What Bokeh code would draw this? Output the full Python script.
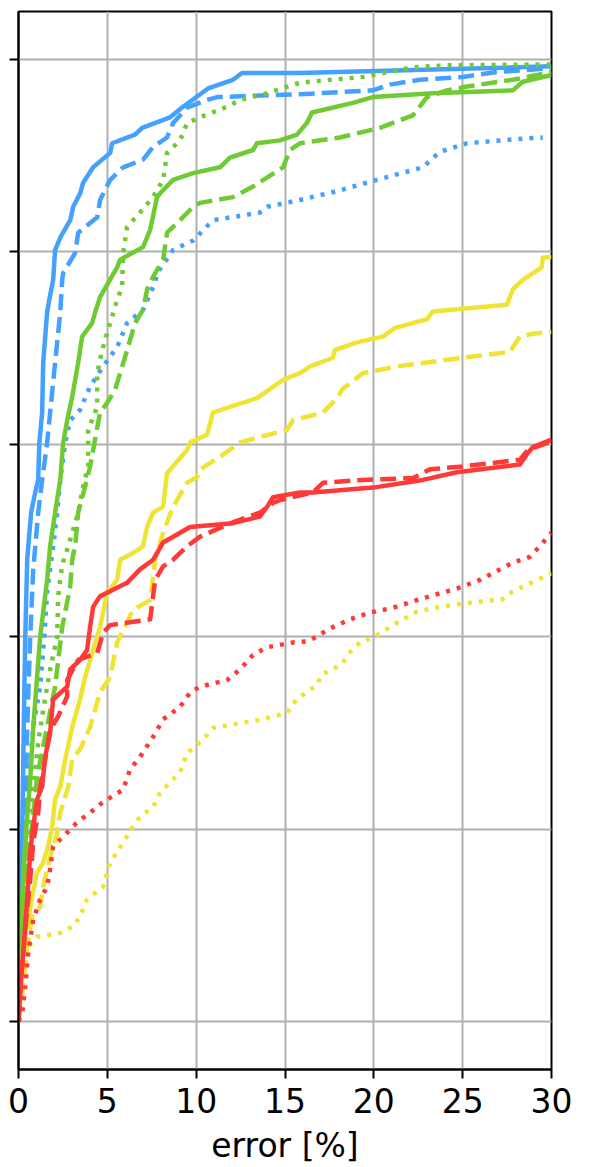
from bokeh.plotting import figure
from bokeh.models import Range1d, FixedTicker
from bokeh.embed import file_html
from bokeh.resources import INLINE

x_ticks = [0, 5, 10, 15, 20, 25, 30]
y_ticks = [0.0, 0.2, 0.4, 0.6, 0.8, 1.0]
x_label = "error [%]"

blue_solid_x = [0, 0.04, 0.10, 0.21, 0.32, 0.38, 0.49, 0.55, 0.71, 0.94, 1.11, 1.17, 1.33, 1.39, 1.61, 1.73, 1.95, 2.06, 2.35, 2.91, 3.08, 3.47, 3.64, 4.20, 5.16, 5.27, 6.56, 6.96, 8.53, 9.26, 10.67, 12.07, 12.58, 15.84, 30.0]
blue_solid_y = [0, 0.075, 0.127, 0.199, 0.335, 0.400, 0.480, 0.494, 0.529, 0.550, 0.563, 0.601, 0.633, 0.685, 0.737, 0.750, 0.771, 0.802, 0.815, 0.833, 0.847, 0.861, 0.872, 0.888, 0.903, 0.913, 0.922, 0.929, 0.940, 0.951, 0.970, 0.979, 0.986, 0.986, 0.993]

blue_dashed_x = [0, 0.10, 0.26, 0.38, 0.49, 0.66, 0.83, 1.11, 1.33, 1.61, 1.78, 2.06, 2.35, 2.46, 2.51, 3.19, 3.36, 4.43, 4.59, 5.16, 5.89, 7.01, 7.57, 8.36, 8.70, 9.49, 10.61, 11.18, 15.84, 19.95, 20.90, 22.59, 25.01, 26.92, 30.0]
blue_dashed_y = [0, 0.064, 0.127, 0.203, 0.306, 0.400, 0.470, 0.529, 0.563, 0.601, 0.633, 0.685, 0.737, 0.771, 0.778, 0.799, 0.820, 0.836, 0.854, 0.875, 0.888, 0.896, 0.909, 0.919, 0.934, 0.950, 0.958, 0.961, 0.964, 0.968, 0.974, 0.979, 0.982, 0.987, 0.991]

blue_dotted_x = [0, 0.10, 0.26, 0.55, 0.83, 1.22, 1.45, 1.61, 1.78, 1.95, 2.18, 2.35, 2.63, 2.91, 3.47, 4.03, 4.76, 5.55, 6.11, 7.01, 7.69, 7.80, 8.70, 9.83, 10.95, 13.59, 13.99, 15.84, 18.09, 20.17, 22.76, 23.71, 25.24, 27.82, 29.51]
blue_dotted_y = [0, 0.075, 0.148, 0.244, 0.306, 0.348, 0.400, 0.446, 0.470, 0.494, 0.529, 0.563, 0.602, 0.625, 0.636, 0.660, 0.681, 0.701, 0.726, 0.740, 0.768, 0.778, 0.802, 0.812, 0.833, 0.841, 0.847, 0.854, 0.864, 0.875, 0.888, 0.904, 0.913, 0.917, 0.919]

green_solid_x = [0, 0.10, 0.26, 0.43, 0.66, 0.83, 1.22, 1.61, 1.78, 2.06, 2.35, 2.51, 2.74, 3.02, 3.36, 3.58, 4.14, 4.31, 4.59, 5.55, 5.72, 7.01, 7.41, 7.80, 7.97, 8.70, 9.83, 11.34, 11.90, 13.20, 13.42, 14.72, 15.67, 16.23, 16.52, 18.82, 19.95, 23.32, 27.82, 28.38, 30.0]
green_solid_y = [0, 0.085, 0.148, 0.199, 0.251, 0.306, 0.400, 0.459, 0.494, 0.529, 0.563, 0.601, 0.625, 0.649, 0.685, 0.712, 0.726, 0.737, 0.753, 0.784, 0.792, 0.805, 0.823, 0.857, 0.861, 0.875, 0.882, 0.888, 0.898, 0.906, 0.913, 0.916, 0.922, 0.934, 0.945, 0.955, 0.961, 0.965, 0.968, 0.977, 0.984]

green_dashed_x = [0, 0.15, 0.38, 0.77, 1.05, 1.61, 2.06, 2.46, 2.91, 3.02, 3.19, 3.36, 3.75, 4.03, 4.31, 4.59, 4.99, 5.44, 6.00, 6.56, 7.01, 7.24, 7.57, 8.14, 8.36, 9.09, 9.83, 10.22, 12.07, 13.20, 14.89, 15.28, 15.84, 18.09, 20.34, 22.20, 22.99, 24.11, 25.24, 27.82, 30.0]
green_dashed_y = [0, 0.075, 0.148, 0.203, 0.255, 0.306, 0.348, 0.410, 0.452, 0.480, 0.494, 0.529, 0.556, 0.577, 0.605, 0.633, 0.643, 0.657, 0.691, 0.726, 0.740, 0.761, 0.774, 0.792, 0.820, 0.833, 0.847, 0.851, 0.857, 0.868, 0.888, 0.906, 0.913, 0.919, 0.929, 0.942, 0.961, 0.968, 0.972, 0.979, 0.987]

green_dotted_x = [0, 0.15, 0.43, 0.83, 1.11, 1.39, 1.78, 2.18, 2.23, 2.46, 2.80, 3.36, 3.64, 3.92, 3.92, 4.43, 4.43, 4.71, 5.16, 5.55, 5.83, 5.89, 6.11, 6.84, 7.57, 8.14, 8.36, 9.09, 9.49, 10.22, 11.74, 12.47, 13.99, 15.84, 19.39, 22.20, 24.11, 30.0]
green_dotted_y = [0, 0.085, 0.168, 0.244, 0.290, 0.324, 0.366, 0.400, 0.442, 0.475, 0.494, 0.529, 0.556, 0.577, 0.615, 0.639, 0.674, 0.698, 0.726, 0.750, 0.764, 0.799, 0.826, 0.841, 0.857, 0.875, 0.903, 0.916, 0.934, 0.940, 0.951, 0.958, 0.965, 0.976, 0.982, 0.992, 0.994, 0.995]

yellow_solid_x = [0, 0.10, 0.21, 0.26, 0.55, 0.77, 1.05, 1.39, 1.67, 1.90, 2.06, 2.35, 2.63, 3.02, 3.47, 3.75, 4.20, 4.59, 4.99, 5.55, 5.72, 6.45, 7.01, 7.24, 7.57, 8.14, 8.36, 9.49, 9.66, 10.61, 10.95, 11.91, 13.43, 14.89, 15.84, 16.41, 17.70, 17.81, 19.05, 20.51, 21.19, 22.99, 23.32, 25.01, 27.49, 27.82, 28.39, 29.45, 29.51, 30.0]
yellow_solid_y = [0, 0.023, 0.054, 0.078, 0.106, 0.130, 0.155, 0.165, 0.182, 0.203, 0.231, 0.244, 0.272, 0.306, 0.335, 0.358, 0.386, 0.410, 0.446, 0.459, 0.480, 0.487, 0.494, 0.514, 0.529, 0.535, 0.570, 0.594, 0.602, 0.610, 0.633, 0.639, 0.648, 0.667, 0.674, 0.681, 0.690, 0.698, 0.706, 0.712, 0.721, 0.730, 0.738, 0.741, 0.745, 0.761, 0.771, 0.784, 0.794, 0.795]

yellow_dashed_x = [0, 0.26, 0.49, 0.77, 1.22, 1.39, 1.78, 2.18, 2.35, 2.80, 3.02, 3.47, 4.03, 4.59, 5.16, 5.55, 6.11, 6.45, 7.41, 7.69, 7.80, 8.14, 8.70, 9.49, 10.05, 10.22, 11.34, 12.47, 15.11, 15.45, 17.14, 17.98, 18.21, 19.39, 21.30, 25.01, 27.65, 28.22, 28.95, 30.0]
yellow_dashed_y = [0, 0.036, 0.078, 0.109, 0.119, 0.140, 0.171, 0.196, 0.217, 0.244, 0.272, 0.283, 0.306, 0.342, 0.358, 0.394, 0.415, 0.428, 0.438, 0.480, 0.487, 0.508, 0.535, 0.560, 0.566, 0.574, 0.587, 0.602, 0.615, 0.625, 0.633, 0.649, 0.657, 0.674, 0.681, 0.690, 0.696, 0.712, 0.715, 0.717]

yellow_dotted_x = [0, 0.10, 0.26, 0.55, 1.05, 2.35, 3.08, 3.47, 3.86, 4.76, 5.16, 5.89, 6.45, 6.84, 7.58, 7.97, 9.09, 9.49, 10.39, 10.95, 12.08, 13.76, 15.11, 15.67, 16.80, 17.08, 17.70, 18.26, 18.66, 19.22, 19.95, 21.07, 22.42, 23.72, 25.24, 27.26, 27.82, 28.61, 30.0]
yellow_dotted_y = [0, 0.009, 0.044, 0.078, 0.088, 0.092, 0.099, 0.109, 0.127, 0.140, 0.165, 0.186, 0.203, 0.213, 0.223, 0.238, 0.259, 0.279, 0.293, 0.305, 0.309, 0.314, 0.321, 0.335, 0.350, 0.361, 0.366, 0.373, 0.384, 0.394, 0.399, 0.412, 0.426, 0.431, 0.435, 0.439, 0.447, 0.454, 0.466]

red_solid_x = [0, 0.10, 0.32, 0.49, 0.66, 0.83, 1.05, 1.33, 1.50, 1.78, 1.95, 2.74, 2.91, 3.47, 3.86, 4.03, 4.20, 4.59, 6.11, 6.84, 7.58, 7.80, 8.14, 9.66, 12.08, 13.59, 13.99, 14.33, 15.84, 16.57, 19.95, 22.76, 24.67, 28.22, 28.67, 28.95, 30.0]
red_solid_y = [0, 0.033, 0.085, 0.127, 0.176, 0.203, 0.231, 0.244, 0.275, 0.300, 0.335, 0.348, 0.366, 0.376, 0.386, 0.410, 0.431, 0.442, 0.456, 0.470, 0.480, 0.487, 0.498, 0.514, 0.518, 0.525, 0.535, 0.545, 0.550, 0.550, 0.555, 0.563, 0.571, 0.579, 0.591, 0.597, 0.605]

red_dashed_x = [0, 0.15, 0.38, 0.66, 0.83, 1.11, 1.22, 1.50, 1.78, 2.23, 2.74, 2.74, 3.36, 4.43, 4.76, 5.16, 7.41, 7.69, 8.14, 8.70, 9.49, 10.22, 12.08, 13.59, 14.33, 14.72, 16.57, 17.14, 19.39, 22.20, 23.16, 25.01, 28.22, 28.67, 30.0]
red_dashed_y = [0, 0.044, 0.096, 0.148, 0.186, 0.217, 0.244, 0.272, 0.303, 0.317, 0.338, 0.355, 0.376, 0.383, 0.404, 0.412, 0.418, 0.459, 0.473, 0.480, 0.494, 0.504, 0.519, 0.529, 0.539, 0.542, 0.550, 0.560, 0.563, 0.565, 0.574, 0.577, 0.584, 0.594, 0.603]

red_dotted_x = [0, 0.21, 0.38, 0.55, 0.83, 1.22, 1.61, 1.78, 1.95, 2.51, 3.30, 4.03, 4.76, 5.89, 6.28, 6.84, 7.58, 8.14, 9.09, 9.66, 10.22, 11.74, 12.47, 13.20, 13.99, 15.45, 16.24, 16.80, 17.36, 18.66, 19.78, 21.07, 22.59, 23.89, 24.67, 25.97, 26.70, 27.82, 28.78, 29.34, 30.0]
red_dotted_y = [0, 0.009, 0.036, 0.072, 0.106, 0.127, 0.140, 0.158, 0.182, 0.192, 0.207, 0.217, 0.228, 0.241, 0.262, 0.275, 0.296, 0.314, 0.327, 0.342, 0.348, 0.355, 0.366, 0.381, 0.389, 0.394, 0.395, 0.400, 0.407, 0.418, 0.425, 0.430, 0.439, 0.446, 0.450, 0.459, 0.466, 0.477, 0.483, 0.494, 0.508]

BLUE = "#44a1ff"
GREEN = "#6fca33"
YELLOW = "#efe433"
RED = "#ff3838"

FONT = "DejaVu Sans"

p = figure(width=590, height=1167, output_backend="svg", toolbar_location=None,
           x_range=Range1d(0, 30), y_range=Range1d(-0.05, 1.05),
           min_border_left=18, min_border_right=39, min_border_top=11,
           min_border_bottom=97)
p.background_fill_color = "white"
p.border_fill_color = "white"
p.outline_line_color = "black"
p.outline_line_width = 2
p.outline_line_alpha = 1.0

series = [
    (blue_solid_x, blue_solid_y, BLUE, "solid"),
    (blue_dashed_x, blue_dashed_y, BLUE, "16 7"),
    (blue_dotted_x, blue_dotted_y, BLUE, "4 7"),
    (green_solid_x, green_solid_y, GREEN, "solid"),
    (green_dashed_x, green_dashed_y, GREEN, "16 7"),
    (green_dotted_x, green_dotted_y, GREEN, "4 7"),
    (yellow_solid_x, yellow_solid_y, YELLOW, "solid"),
    (yellow_dashed_x, yellow_dashed_y, YELLOW, "16 7"),
    (yellow_dotted_x, yellow_dotted_y, YELLOW, "4 7"),
    (red_solid_x, red_solid_y, RED, "solid"),
    (red_dashed_x, red_dashed_y, RED, "16 7"),
    (red_dotted_x, red_dotted_y, RED, "4 7"),
]
for xs, ys, col, dash in series:
    p.line(xs, ys, line_color=col, line_width=4.5, line_dash=dash, line_join="round")

p.xaxis.ticker = FixedTicker(ticks=x_ticks)
p.yaxis.ticker = FixedTicker(ticks=y_ticks)
p.xgrid.ticker = FixedTicker(ticks=x_ticks)
p.ygrid.ticker = FixedTicker(ticks=y_ticks)
for g in (p.xgrid, p.ygrid):
    g.grid_line_color = "#b0b0b0"
    g.grid_line_width = 2
    g.grid_line_alpha = 1.0

for ax in (p.xaxis, p.yaxis):
    ax.axis_line_color = "black"
    ax.axis_line_width = 2
    ax.major_tick_line_color = "black"
    ax.major_tick_line_width = 2
    ax.major_tick_in = 0
    ax.major_tick_out = 9
    ax.minor_tick_line_color = None

p.xaxis.axis_label = x_label
p.xaxis.axis_label_text_font = FONT
p.xaxis.axis_label_text_font_size = "33px"
p.xaxis.axis_label_text_font_style = "normal"
p.xaxis.axis_label_text_color = "black"
p.xaxis.axis_label_standoff = 10
p.xaxis.major_label_text_font = FONT
p.xaxis.major_label_text_font_size = "33px"
p.xaxis.major_label_text_color = "black"
p.xaxis.major_label_standoff = 9

p.yaxis.major_label_overrides = {t: "" for t in y_ticks}
p.yaxis.major_label_standoff = 0

open("out.html", "w").write(file_html(p, INLINE))
